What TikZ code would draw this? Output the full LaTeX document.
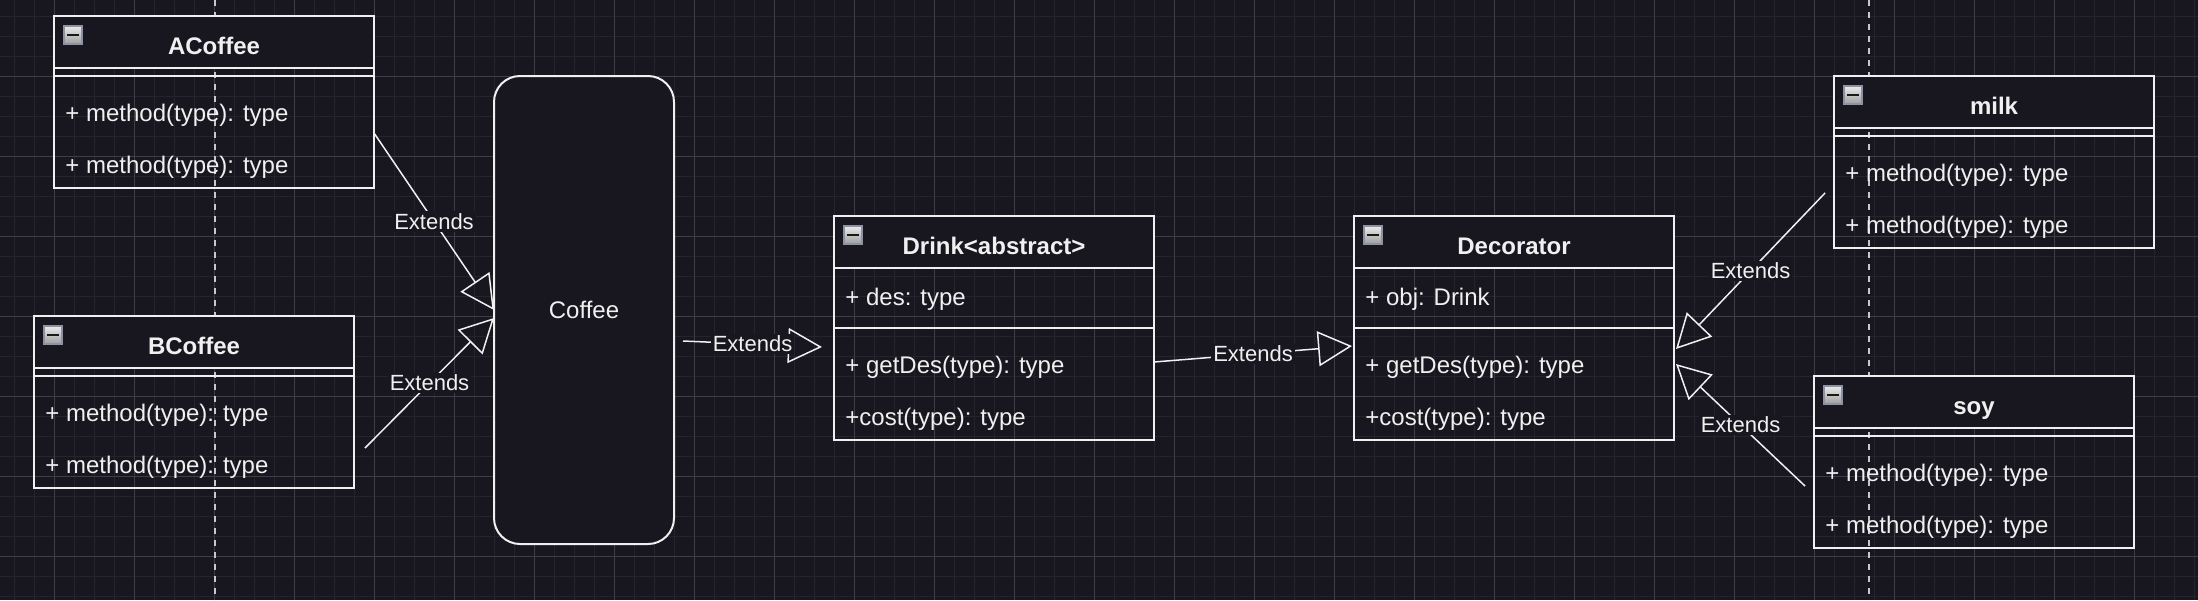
\documentclass[tikz,border=0pt]{standalone}
\usepackage{fontspec}
\setmainfont{Liberation Sans}
\usetikzlibrary{arrows.meta}
\definecolor{bg}{HTML}{18161E}
\definecolor{fg}{HTML}{F0F0F0}
\definecolor{minorgrid}{HTML}{25242B}
\definecolor{majorgrid}{HTML}{3E3E44}
\definecolor{guide}{HTML}{C8C8C8}
\definecolor{iconedge}{HTML}{8C92A4}

\tikzset{
  body/.style={draw=fg, line width=1pt, anchor=north west, outer sep=0pt, inner sep=0pt, minimum width=160pt},
  head/.style={body, fill=bg, minimum height=26pt, text height=12pt, text depth=0pt, text=fg, font=\fontsize{12}{14}\selectfont\bfseries},
  row/.style={anchor=west, inner sep=0pt, text=fg, font=\fontsize{12}{14}\selectfont},
  icon/.style={anchor=north west, inner sep=0pt, outer sep=0pt, minimum size=9pt, draw=iconedge, line width=0.6pt,
    top color=white!92!black, bottom color=white!62!black,
    path picture={\fill[black!90] ([shift={(-3pt,-0.5pt)}]path picture bounding box.center) rectangle ([shift={(3pt,0.5pt)}]path picture bounding box.center);}},
  extends/.style={draw=fg, line width=0.75pt, -{Triangle[open, length=17pt, width=17.5pt]}},
  lbl/.style={fill=bg, inner sep=1pt, text=fg, font=\fontsize{11}{13}\selectfont},
}

\begin{document}
\begin{tikzpicture}[x=0.5pt, y=-0.5pt]
			% Background and grid
			\fill[bg] (0,0) rectangle (2198,600);
			\useasboundingbox (0,0) rectangle (2198,600);
			\foreach \x in {14,34,...,2194}
			\draw[minorgrid, line width=0.5pt] (\x,0) -- (\x,600);
			\foreach \y in {16,36,...,596}
			\draw[minorgrid, line width=0.5pt] (0,\y) -- (2198,\y);
			\foreach \x in {54,134,...,2134}
			\draw[majorgrid, line width=0.5pt] (\x,0) -- (\x,600);
			\foreach \y in {76,156,...,556}
			\draw[majorgrid, line width=0.5pt] (0,\y) -- (2198,\y);

			% Page guides
			\foreach \x in {215,1869}
			\draw[guide, line width=0.8pt, dash pattern=on 3pt off 3pt] (\x,0) -- (\x,600);

			% ACoffee
			\node[body, minimum height=86pt] (ACoffee) at (54,16) {};
			\node[head] (ACoffee-head) at (54,16) {ACoffee};
			\node[icon] (ACoffee-icon) at (64,26) {};
			\draw[fg, line width=1pt] ([yshift=-30pt]ACoffee.north west) -- ([yshift=-30pt]ACoffee.north east);
			\foreach \n/\y in {1/115,2/167}
			\node[row] (ACoffee-m\n) at (65,\y) {+ method(type): type};

			% BCoffee
			\node[body, minimum height=86pt] (BCoffee) at (34,316) {};
			\node[head] (BCoffee-head) at (34,316) {BCoffee};
			\node[icon] (BCoffee-icon) at (44,326) {};
			\draw[fg, line width=1pt] ([yshift=-30pt]BCoffee.north west) -- ([yshift=-30pt]BCoffee.north east);
			\foreach \n/\y in {1/415,2/467}
			\node[row] (BCoffee-m\n) at (45,\y) {+ method(type): type};

			% Coffee
			\node[draw=fg, fill=bg, line width=1pt, rounded corners=13pt, anchor=north west, outer sep=0pt,
				minimum width=90pt, minimum height=234pt, text=fg, font=\fontsize{12}{14}\selectfont] (Coffee) at (494,76) {Coffee};

			% Drink
			\node[body, minimum height=112pt] (Drink) at (834,216) {};
			\node[head] (Drink-head) at (834,216) {Drink<abstract>};
			\node[icon] (Drink-icon) at (844,226) {};
			\node[row] (Drink-a1) at (845,299) {+ des: type};
			\draw[fg, line width=1pt] ([yshift=-56pt]Drink.north west) -- ([yshift=-56pt]Drink.north east);
			\node[row] (Drink-m1) at (845,367) {+ getDes(type): type};
			\node[row] (Drink-m2) at (845,419) {+cost(type): type};

			% Decorator
			\node[body, minimum height=112pt] (Decorator) at (1354,216) {};
			\node[head] (Decorator-head) at (1354,216) {Decorator};
			\node[icon] (Decorator-icon) at (1364,226) {};
			\node[row] (Decorator-a1) at (1365,299) {+ obj: Drink};
			\draw[fg, line width=1pt] ([yshift=-56pt]Decorator.north west) -- ([yshift=-56pt]Decorator.north east);
			\node[row] (Decorator-m1) at (1365,367) {+ getDes(type): type};
			\node[row] (Decorator-m2) at (1365,419) {+cost(type): type};

			% milk
			\node[body, minimum height=86pt] (milk) at (1834,76) {};
			\node[head] (milk-head) at (1834,76) {milk};
			\node[icon] (milk-icon) at (1844,86) {};
			\draw[fg, line width=1pt] ([yshift=-30pt]milk.north west) -- ([yshift=-30pt]milk.north east);
			\foreach \n/\y in {1/175,2/227}
			\node[row] (milk-m\n) at (1845,\y) {+ method(type): type};

			% soy
			\node[body, minimum height=86pt] (soy) at (1814,376) {};
			\node[head] (soy-head) at (1814,376) {soy};
			\node[icon] (soy-icon) at (1824,386) {};
			\draw[fg, line width=1pt] ([yshift=-30pt]soy.north west) -- ([yshift=-30pt]soy.north east);
			\foreach \n/\y in {1/475,2/527}
			\node[row] (soy-m\n) at (1825,\y) {+ method(type): type};

			% Extends arrows
			\draw[extends] ([yshift=-15.5pt]ACoffee.east) -- node[lbl] {Extends} (Coffee.west);
			\draw[extends] ([xshift=5.5pt,yshift=-23pt]BCoffee.east) -- node[lbl] {Extends} ([yshift=-4pt]Coffee.west);
			\draw[extends] ([xshift=4.5pt,yshift=-15.5pt]Coffee.east) -- node[lbl] {Extends} ([xshift=-6pt,yshift=-9.5pt]Drink.west);
			\draw[extends] ([yshift=-17pt]Drink.east) -- node[lbl] {Extends} ([xshift=-1pt,yshift=-9pt]Decorator.west);
			\draw[extends] ([xshift=-4.5pt,yshift=-15.5pt]milk.west) -- node[lbl] {Extends} ([xshift=1pt,yshift=-10.5pt]Decorator.east);
			\draw[extends] ([xshift=-4.5pt,yshift=-12pt]soy.west) -- node[lbl] {Extends} ([xshift=1pt,yshift=-18pt]Decorator.east);
		\end{tikzpicture}
\end{document}
